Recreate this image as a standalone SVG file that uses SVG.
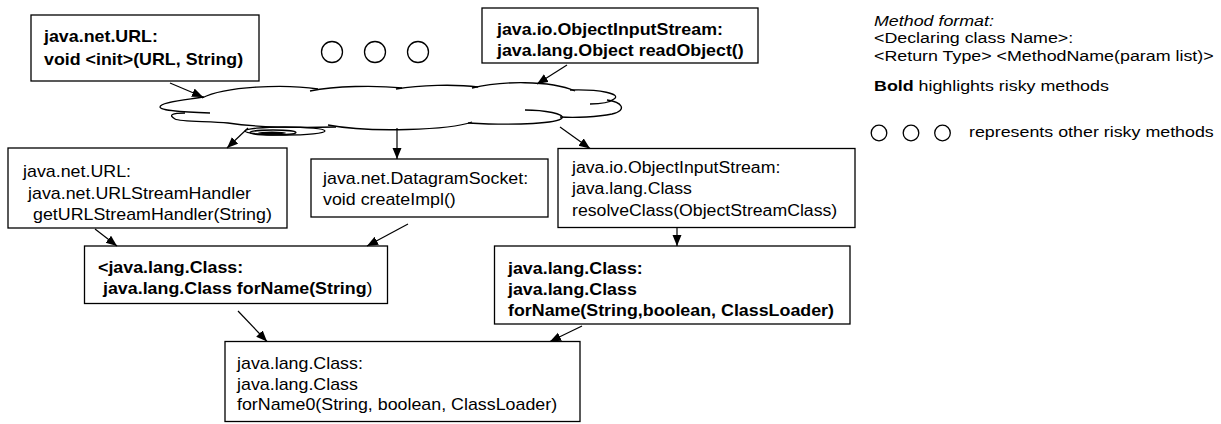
<svg xmlns="http://www.w3.org/2000/svg" width="1221" height="424" viewBox="0 0 1221 424">
<style>
text{font-family:"Liberation Sans",Arial,Helvetica,sans-serif;fill:#000}
.n{font-size:16px}
.b{font-size:16px;font-weight:bold}
.nw{font-weight:normal}
.lg{font-size:15px}
.it{font-style:italic}
.box{fill:#fff;stroke:#000;stroke-width:1.3}
.cl{fill:none;stroke:#000;stroke-width:1.3}
.ar{fill:none;stroke:#000;stroke-width:1.2;marker-end:url(#ah)}
.c{fill:#fff;stroke:#000;stroke-width:1.3}
</style>
<defs>
<marker id="ah" markerUnits="userSpaceOnUse" markerWidth="12" markerHeight="10" refX="11" refY="4.5" orient="auto"><path d="M0,0 L11,4.5 L0,9 z" fill="#000"/></marker>
</defs>
<rect x="0" y="0" width="1221" height="424" fill="#fff"/>

<g id="n_url_init">
<rect class="box" x="31" y="15" width="228" height="66"/>
<text class="b" transform="translate(44,0) scale(1.115 1)"><tspan x="0" y="42.5">java.net.URL:</tspan><tspan x="0" y="65.5">void &lt;init&gt;(URL, String)</tspan></text>
</g>

<g id="n_ois_read">
<rect class="box" x="482" y="8" width="276" height="55"/>
<text class="b" transform="translate(497,0) scale(1.115 1)"><tspan x="0" y="35">java.io.ObjectInputStream:</tspan><tspan x="0" y="56.5">java.lang.Object readObject()</tspan></text>
</g>

<g id="other_methods">
<circle class="c" cx="332" cy="52" r="10.5"/>
<circle class="c" cx="375" cy="52" r="10.5"/>
<circle class="c" cx="418" cy="52" r="10.5"/>
</g>

<g id="cloud">
<path class="cl" d="M202,98 C225,86 285,84 318,89"/>
<path class="cl" d="M310,91 C335,86 375,85 402,88"/>
<path class="cl" d="M396,89 C420,85 455,84 478,87"/>
<path class="cl" d="M472,88 C500,81 550,80 575,91"/>
<path class="cl" d="M570,90 C600,89 622,94 614,99 C609,103 598,104 590,104"/>
<path class="cl" d="M607,100 C622,102 628,110 612,114 C598,117 575,118 560,117"/>
<path class="cl" d="M525,110 C545,110 565,114 562,118 C558,123 520,126 468,123"/>
<path class="cl" d="M472,122 C450,130 370,133 328,125"/>
<path class="cl" d="M336,127 C300,128 255,127 228,123 C210,121 180,122 175,119 C168,115 172,113 185,113"/>
<path class="cl" d="M204,97 C185,100 160,102 160,107 C160,111 185,112 210,113"/>
<ellipse class="cl" cx="285" cy="131" rx="40" ry="4"/>
<ellipse class="cl" cx="273" cy="132.5" rx="23" ry="2.5"/>
<ellipse cx="272" cy="133" rx="14" ry="1.5" fill="#000"/>
</g>

<g id="n_url_handler">
<rect class="box" x="8" y="148" width="279" height="80"/>
<text class="n" transform="translate(23,0) scale(1.115 1)"><tspan x="0" y="177.5">java.net.URL:</tspan></text>
<text class="n" transform="translate(28,0) scale(1.115 1)"><tspan x="0" y="199">java.net.URLStreamHandler</tspan></text>
<text class="n" transform="translate(33,0) scale(1.115 1)"><tspan x="0" y="220">getURLStreamHandler(String)</tspan></text>
</g>

<g id="n_datagram">
<rect class="box" x="311" y="159" width="237" height="58"/>
<text class="n" transform="translate(323,0) scale(1.115 1)"><tspan x="0" y="184">java.net.DatagramSocket:</tspan><tspan x="0" y="205.5">void createImpl()</tspan></text>
</g>

<g id="n_ois_resolve">
<rect class="box" x="558" y="148.5" width="297" height="79"/>
<text class="n" transform="translate(572,0) scale(1.105 1)"><tspan x="0" y="173.5">java.io.ObjectInputStream:</tspan><tspan x="0" y="194.5">java.lang.Class</tspan><tspan x="0" y="216">resolveClass(ObjectStreamClass)</tspan></text>
</g>

<g id="n_forname1">
<rect class="box" x="84.5" y="246" width="303" height="57.5"/>
<text class="b" transform="translate(98,0) scale(1.115 1)"><tspan x="0" y="273.5">&lt;java.lang.Class:</tspan></text>
<text class="b" transform="translate(103,0) scale(1.115 1)"><tspan x="0" y="294.5">java.lang.Class forName(String<tspan class="nw">)</tspan></tspan></text>
</g>

<g id="n_forname3">
<rect class="box" x="494.5" y="246" width="355.5" height="78"/>
<text class="b" transform="translate(508,0) scale(1.115 1)"><tspan x="0" y="274">java.lang.Class:</tspan><tspan x="0" y="295">java.lang.Class</tspan><tspan x="0" y="316">forName(String,boolean, ClassLoader)</tspan></text>
</g>

<g id="n_forname0">
<rect class="box" x="225" y="341.5" width="355" height="80"/>
<text class="n" transform="translate(237,0) scale(1.115 1)"><tspan x="0" y="369.5">java.lang.Class:</tspan><tspan x="0" y="390">java.lang.Class</tspan><tspan x="0" y="410">forName0(String, boolean, ClassLoader)</tspan></text>
</g>

<g id="connectors">
<line class="ar" x1="170" y1="83" x2="203" y2="97"/>
<line class="ar" x1="567" y1="65" x2="537" y2="84"/>
<line class="ar" x1="248" y1="128" x2="227" y2="148"/>
<line class="ar" x1="397" y1="128" x2="397" y2="159"/>
<line class="ar" x1="560" y1="127" x2="590" y2="148.5"/>
<line class="ar" x1="677" y1="228" x2="677" y2="246"/>
<line class="ar" x1="95" y1="229" x2="117" y2="246"/>
<line class="ar" x1="408" y1="224" x2="367" y2="246"/>
<line class="ar" x1="238" y1="311" x2="267" y2="341.5"/>
<line class="ar" x1="582" y1="326" x2="550" y2="341.5"/>
</g>

<g id="legend">
<text class="lg it" transform="translate(874,0) scale(1.19 1)"><tspan x="0" y="26.5">Method format:</tspan></text>
<text class="lg" transform="translate(874,0) scale(1.19 1)"><tspan x="0" y="43.5">&lt;Declaring class Name&gt;:</tspan><tspan x="0" y="61.5">&lt;Return Type&gt; &lt;MethodName(param list)&gt;</tspan></text>
<text class="lg" transform="translate(874,0) scale(1.19 1)"><tspan x="0" y="91"><tspan font-weight="bold">Bold</tspan> highlights risky methods</tspan></text>
<circle class="c" cx="879" cy="133" r="7.8"/>
<circle class="c" cx="911" cy="133" r="7.8"/>
<circle class="c" cx="942.5" cy="133" r="7.8"/>
<text class="lg" transform="translate(969,0) scale(1.19 1)"><tspan x="0" y="137">represents other risky methods</tspan></text>
</g>
</svg>
